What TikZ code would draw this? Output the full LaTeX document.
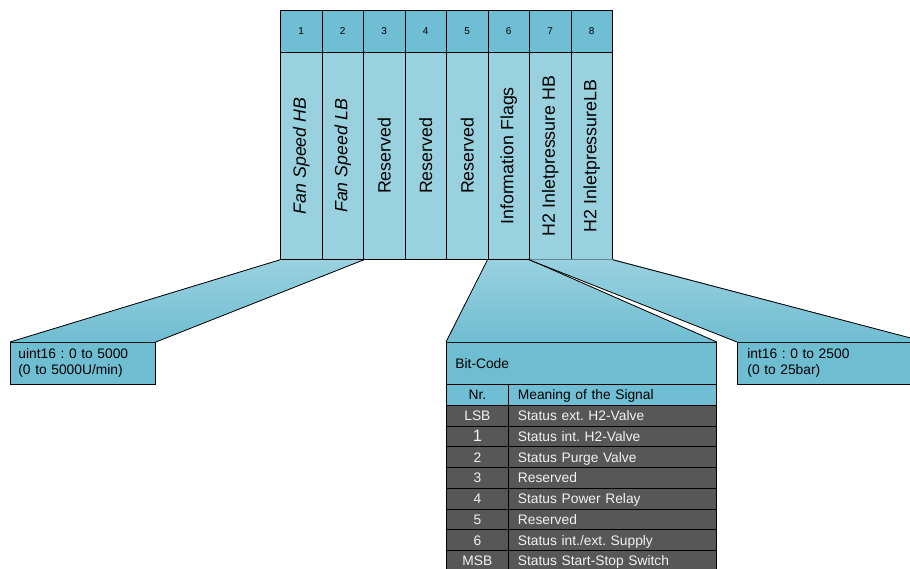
\documentclass[tikz,border=0pt]{standalone}
\usepackage{fontspec}
\setmainfont{Liberation Sans}
\frenchspacing
\definecolor{hdr}{HTML}{6FBED3}
\definecolor{body}{HTML}{99D1DF}
\definecolor{traptop}{HTML}{99D1DF}
\definecolor{trapbot}{HTML}{70BDD1}
\definecolor{boxc}{HTML}{6FBDD1}
\definecolor{dark}{HTML}{575757}
\definecolor{lighttext}{HTML}{F2F2F2}
\begin{document}
\begin{tikzpicture}[x=1pt,y=-1pt,
  frame/.style={draw=black,line width=0.8pt},
  hcell/.style={frame,fill=hdr,inner sep=0pt,anchor=north west,minimum width=41.5pt,minimum height=42pt,font=\fontsize{10}{11}\selectfont},
  bcell/.style={frame,fill=body,inner sep=0pt,anchor=north west,minimum width=41.5pt,minimum height=207pt,font=\fontsize{17.8}{20}\selectfont},
  trap/.style={top color=traptop,bottom color=trapbot},
  edge/.style={draw=black,line width=0.8pt},
  callbox/.style={frame,fill=boxc,anchor=north west,minimum height=42pt,align=left,font=\fontsize{13.8}{16}\selectfont},
  nrcell/.style={frame,anchor=north west,minimum width=62pt,minimum height=20.75pt,inner sep=0pt,text height=10pt,text depth=0pt,font=\fontsize{13.8}{16}\selectfont},
  mcell/.style={frame,anchor=north west,minimum width=208pt,minimum height=20.75pt,inner xsep=9.5pt,inner ysep=0pt,text width=189pt,align=left,text height=10pt,text depth=0pt,font=\fontsize{13.8}{16}\selectfont},
  lightrow/.style={fill=hdr,text=black},
  darkrow/.style={fill=dark,text=lighttext}]
\useasboundingbox (0,0) rectangle (910,568);

% boxes below
\node[callbox,minimum width=145pt,text width=129pt,inner xsep=8pt] (lbox) at (10,342) {uint16 : 0 to 5000\\(0 to 5000U/min)};
\node[callbox,minimum width=270pt,text width=252pt,inner xsep=9pt] (bbox) at (446,342) {Bit-Code};
\node[callbox,minimum width=188pt,text width=168pt,inner xsep=10pt] (rbox) at (737,342) {int16 : 0 to 2500\\(0 to 25bar)};

% columns
\foreach \i/\t in {1/{\itshape Fan Speed HB},2/{\itshape Fan Speed LB},3/Reserved,4/Reserved,5/Reserved,6/Information Flags,7/H2 Inletpressure HB,8/H2 InletpressureLB}{
  \node[hcell] (h\i) at ({280+(\i-1)*41.5},10) {\i};
  \node[bcell] (b\i) at ({280+(\i-1)*41.5},52) {\rotatebox{90}{\t}};
}

% funnels
\fill[trap] (b1.south west) -- (b2.south east) -- (lbox.north east) -- (lbox.north west) -- cycle;
\draw[edge] (b1.south west) -- (lbox.north west);
\draw[edge] (b2.south east) -- (lbox.north east);
\draw[edge] (b1.south west) -- (b2.south east);

\fill[trap] (b6.south west) -- (b6.south east) -- (bbox.north east) -- (bbox.north west) -- cycle;
\draw[edge] (b6.south west) -- (bbox.north west);
\draw[edge] (b6.south east) -- (bbox.north east);
\draw[edge] (b6.south west) -- (b6.south east);

\fill[trap] ([yshift=0.5pt]b7.south west) -- ([yshift=0.5pt]b8.south east) -- (rbox.north east) -- (rbox.north west) -- cycle;
\draw[edge] (b7.south west) -- (rbox.north west);
\draw[edge] (b8.south east) -- (rbox.north east);

% table
\foreach \r/\n/\m in {0/Nr./Meaning of the Signal,1/LSB/Status ext. H2-Valve,2/{\fontsize{16.5}{16}\selectfont 1}/Status int. H2-Valve,3/2/Status Purge Valve,4/3/Reserved,5/4/Status Power Relay,6/5/Reserved,7/6/{Status int./ext. Supply},8/MSB/Status Start-Stop Switch}{
  \ifnum\r=0
    \node[nrcell,lightrow] (n\r) at (446,{384+\r*20.75}) {\n};
    \node[mcell,lightrow] (m\r) at (508,{384+\r*20.75}) {\m};
  \else
    \node[nrcell,darkrow] (n\r) at (446,{384+\r*20.75}) {\n};
    \node[mcell,darkrow] (m\r) at (508,{384+\r*20.75}) {\m};
  \fi
}
\end{tikzpicture}
\end{document}
